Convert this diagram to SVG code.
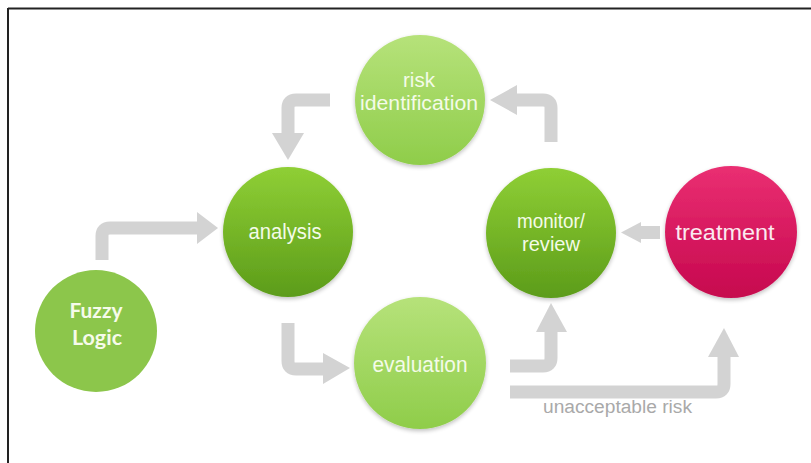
<svg xmlns="http://www.w3.org/2000/svg" width="811" height="463" viewBox="0 0 811 463">
<defs>
<linearGradient id="gDark" x1="0" y1="0" x2="0" y2="1">
<stop offset="0" stop-color="#8fcf35"/><stop offset="1" stop-color="#5c9c1a"/>
</linearGradient>
<linearGradient id="gLight" x1="0" y1="0" x2="0" y2="1">
<stop offset="0" stop-color="#b6e27a"/><stop offset="1" stop-color="#8fcd4a"/>
</linearGradient>
<linearGradient id="gPink" x1="0" y1="0" x2="0" y2="1">
<stop offset="0" stop-color="#ea2f72"/><stop offset="1" stop-color="#c6074e"/>
</linearGradient>
<filter id="sh" x="-20%" y="-20%" width="140%" height="140%">
<feGaussianBlur in="SourceAlpha" stdDeviation="2"/>
<feOffset dy="2"/>
<feComponentTransfer><feFuncA type="linear" slope="0.25"/></feComponentTransfer>
<feMerge><feMergeNode/><feMergeNode in="SourceGraphic"/></feMerge>
</filter>
</defs>
<style>
.lbl{font-family:"Liberation Sans",Arial,sans-serif;font-size:22px;fill:#f4fbe8;text-anchor:middle}
.two{font-size:20px}
.fz{font-family:Lato,"Open Sans",sans-serif;font-weight:bold;font-size:20px;fill:#f6fbea;text-anchor:middle}
.bar{fill:none;stroke:#d3d3d3;stroke-width:13;stroke-linejoin:round}
.head{fill:#d3d3d3}
.note{font-family:"Liberation Sans",Arial,sans-serif;font-size:18px;fill:#a9a9a9}
</style>
<rect width="811" height="463" fill="#ffffff"/>
<g id="frame">
<line x1="8" y1="8.5" x2="811" y2="8.5" stroke="#222" stroke-width="2"/>
<line x1="8" y1="8" x2="8" y2="463" stroke="#222" stroke-width="2"/>
</g>
<g id="connectors">
<path class="bar" d="M330,100 H296 Q288,100 288,108 V134"/>
<polygon class="head" points="272,133 304,133 288,160"/>
<path class="bar" d="M551,142 V108 Q551,100 543,100 H516"/>
<polygon class="head" points="517,85 517,115 490,100"/>
<path class="bar" d="M102,260 V236 Q102,228 110,228 H198"/>
<polygon class="head" points="197,212 197,244 218,228"/>
<path class="bar" d="M288,323 V361 Q288,369 296,369 H324"/>
<polygon class="head" points="323,353 323,384 350,368"/>
<path class="bar" d="M510,366 H543 Q551,366 551,358 V331"/>
<polygon class="head" points="536,332 567,332 551,303"/>
<path class="bar" d="M510,392 H716 Q724,392 724,384 V356"/>
<polygon class="head" points="708,357 739,357 724,328"/>
<path class="bar" d="M660,232.5 H639" stroke-width="10"/>
<polygon class="head" points="641,222 641,243 621,232.5"/>
<text class="note" x="543" y="413" textLength="149" lengthAdjust="spacingAndGlyphs">unacceptable risk</text>
</g>
<g id="risk-identification">
<circle cx="420" cy="100" r="65" fill="url(#gLight)" filter="url(#sh)"/>
<text class="lbl two" x="419" y="87" textLength="32" lengthAdjust="spacingAndGlyphs">risk</text>
<text class="lbl two" x="419" y="110" textLength="118" lengthAdjust="spacingAndGlyphs">identification</text>
</g>
<g id="analysis">
<circle cx="288" cy="232" r="65" fill="url(#gDark)" filter="url(#sh)"/>
<text class="lbl" x="285" y="239" textLength="73" lengthAdjust="spacingAndGlyphs">analysis</text>
</g>
<g id="monitor-review">
<circle cx="551" cy="233" r="65" fill="url(#gDark)" filter="url(#sh)"/>
<text class="lbl two" x="551" y="228" textLength="68" lengthAdjust="spacingAndGlyphs">monitor/</text>
<text class="lbl two" x="551" y="251" textLength="58" lengthAdjust="spacingAndGlyphs">review</text>
</g>
<g id="treatment">
<circle cx="731" cy="232" r="66" fill="url(#gPink)" filter="url(#sh)"/>
<text class="lbl" x="725" y="240" textLength="99" lengthAdjust="spacingAndGlyphs" style="fill:#fbe9f0">treatment</text>
</g>
<g id="evaluation">
<circle cx="420" cy="363" r="66" fill="url(#gLight)" filter="url(#sh)"/>
<text class="lbl" x="420" y="372" textLength="95" lengthAdjust="spacingAndGlyphs">evaluation</text>
</g>
<g id="fuzzy-logic">
<circle cx="96" cy="331" r="61" fill="#8cc64b"/>
<text class="fz" x="96" y="318" textLength="53" lengthAdjust="spacingAndGlyphs">Fuzzy</text>
<text class="fz" x="97" y="345" textLength="50" lengthAdjust="spacingAndGlyphs">Logic</text>
</g>
</svg>
